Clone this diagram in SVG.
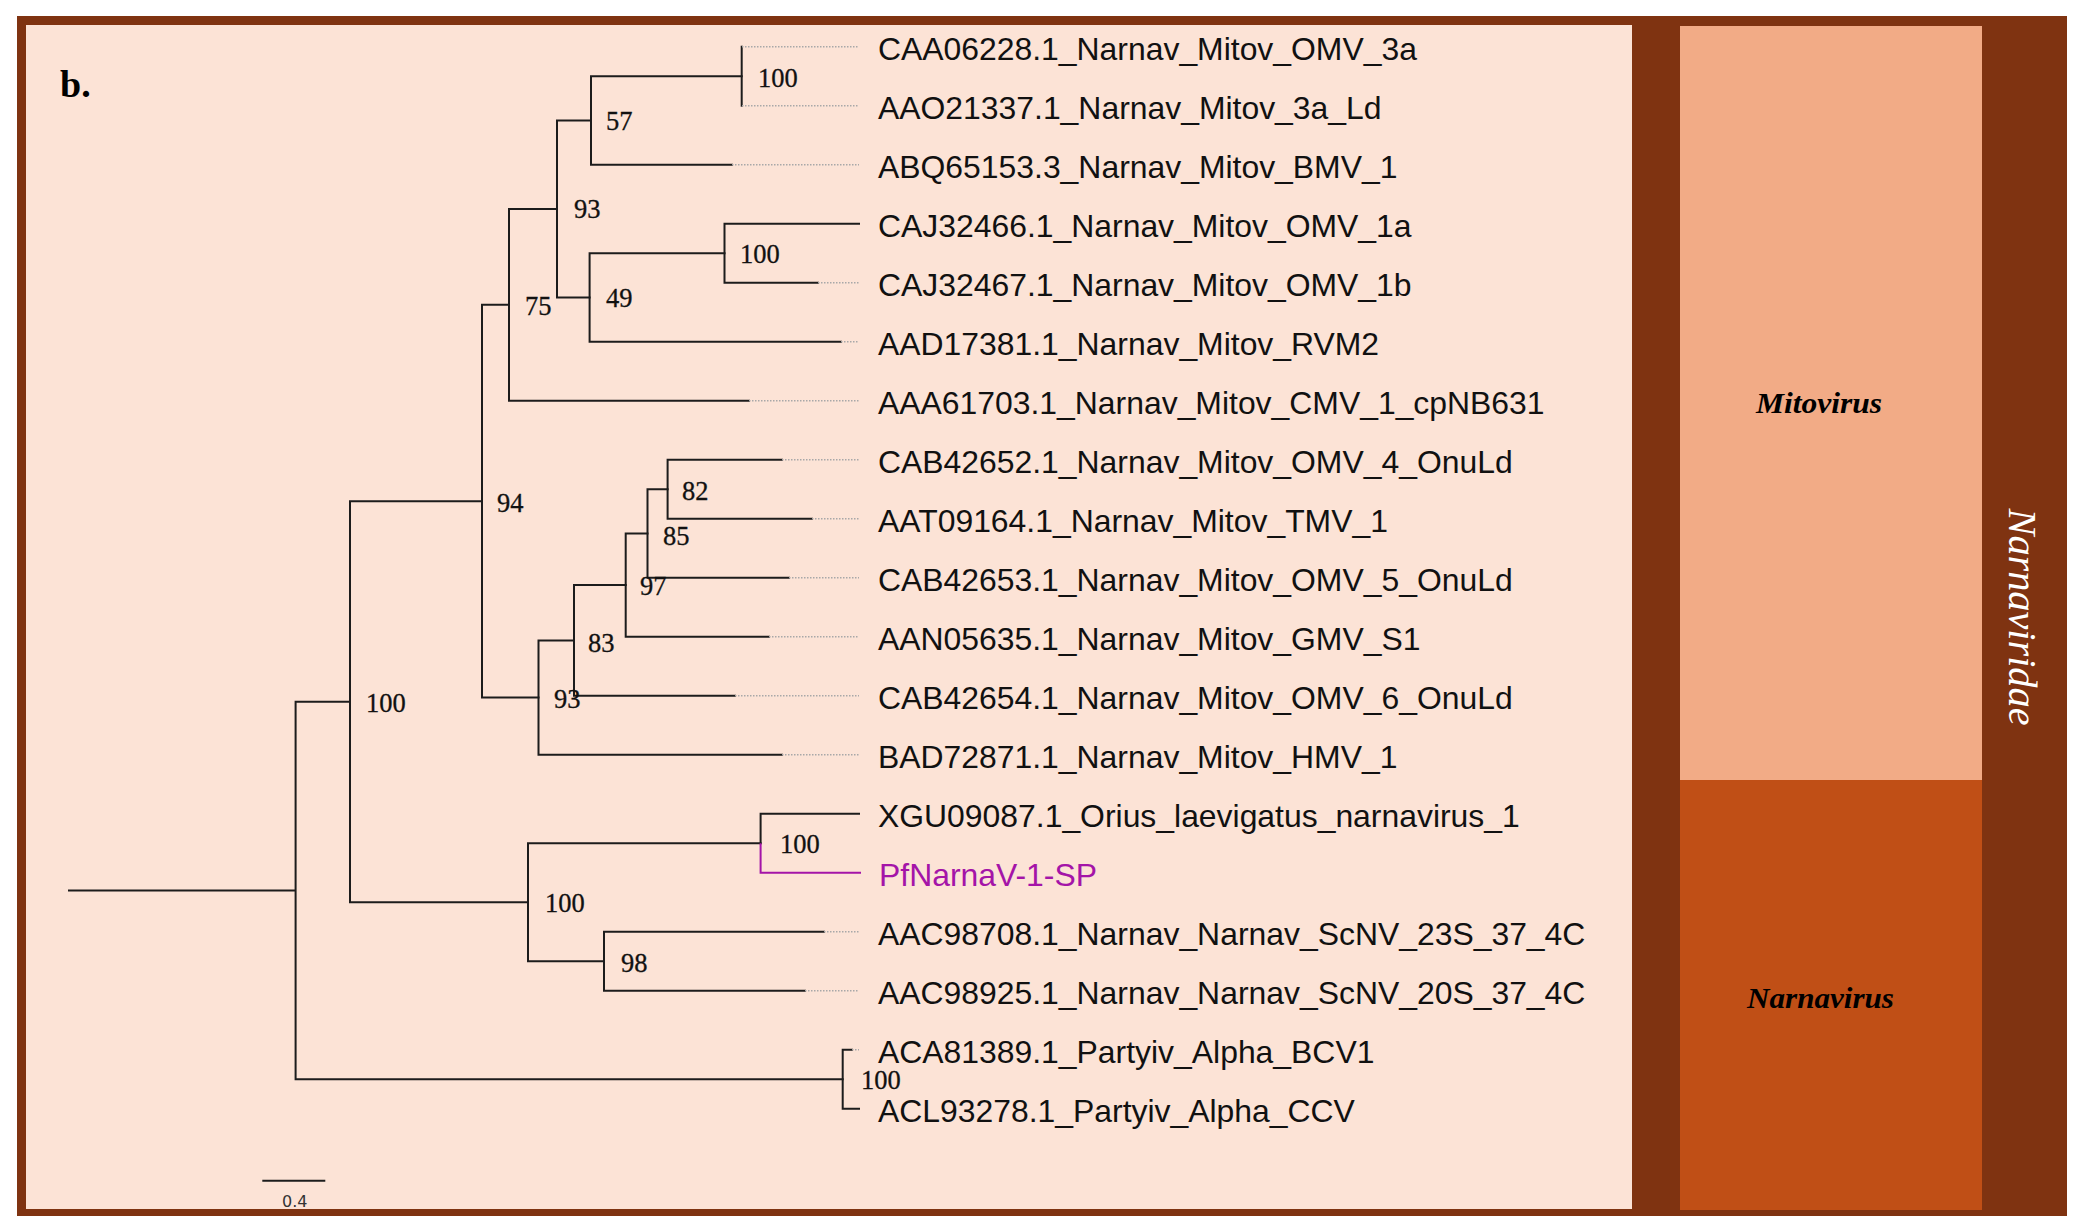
<svg xmlns="http://www.w3.org/2000/svg" width="2082" height="1231" viewBox="0 0 2082 1231">
<style>
.br{fill:none;stroke:#1c1c1c;stroke-width:2;stroke-linecap:square}
.dt{fill:none;stroke:#a8a8a8;stroke-width:1.5;stroke-dasharray:1.5 1.5}
.mg{fill:none;stroke:#a414a8;stroke-width:2}
.lb{font-family:"Liberation Sans",Arial,sans-serif;font-size:31.9px;fill:#111}
.bs{font-family:"Liberation Serif","Times New Roman",serif;font-size:26.5px;fill:#111;stroke:#111;stroke-width:0.3}
.gn{font-family:"Liberation Serif","Times New Roman",serif;font-size:29px;font-weight:bold;font-style:italic;fill:#000}
</style>
<rect x="0" y="0" width="2082" height="1231" fill="#ffffff"/>
<rect x="17" y="16" width="2050" height="1200" fill="#7f3311"/>
<rect x="26" y="25" width="1606" height="1184" fill="#fce3d6"/>
<g id="mitovirus">
<rect x="1680" y="26" width="302" height="754" fill="#f2ab86"/>
<text class="gn" x="1756" y="413" textLength="126" lengthAdjust="spacingAndGlyphs">Mitovirus</text>
</g>
<g id="narnavirus">
<rect x="1680" y="780" width="302" height="430" fill="#c04f16"/>
<text class="gn" x="1747" y="1008" textLength="147" lengthAdjust="spacingAndGlyphs">Narnavirus</text>
</g>
<g id="narnaviridae">
<text transform="translate(2009,617) rotate(90)" x="0" y="0" text-anchor="middle" font-family="'Liberation Serif','Times New Roman',serif" font-style="italic" font-size="40" fill="#ffffff" textLength="217" lengthAdjust="spacingAndGlyphs">Narnaviridae</text>
</g>
<text id="panel-label" x="60" y="97" font-family="'Liberation Serif','Times New Roman',serif" font-weight="bold" font-size="38" fill="#000">b.</text>
<g id="connectors">
<path class="br" d="M69 890.45H295.6M295.6 701.7V1079.2M295.6 701.7H350M295.6 1079.2H842.7"/>
<path class="br" d="M350 501.2V902.2M350 501.2H482M350 902.2H528"/>
<path class="br" d="M482 304.8V697.55M482 304.8H509M482 697.55H538.5"/>
<path class="br" d="M509 208.95V400.7M509 208.95H557M509 400.7H749"/>
<path class="br" d="M557 120.45V297.45M557 120.45H591M557 297.45H589.6"/>
<path class="br" d="M591 76.2V164.7M591 76.2H741.7M591 164.7H732"/>
<path class="br" d="M741.7 46.7V105.7"/>
<path class="br" d="M589.6 253.2V341.7M589.6 253.2H724.5M589.6 341.7H841"/>
<path class="br" d="M724.5 223.7V282.7M724.5 223.7H859M724.5 282.7H818"/>
<path class="br" d="M538.5 640.4V754.7M538.5 640.4H574M538.5 754.7H782"/>
<path class="br" d="M574 585.1V695.7M574 585.1H625.7M574 695.7H735"/>
<path class="br" d="M625.7 533.45V636.7M625.7 533.45H647.5M625.7 636.7H769"/>
<path class="br" d="M647.5 489.2V577.7M647.5 489.2H667.6M647.5 577.7H789"/>
<path class="br" d="M667.6 459.7V518.7M667.6 459.7H782M667.6 518.7H812"/>
<path class="br" d="M528 843.2V961.2M528 843.2H760.6M528 961.2H604"/>
<path class="br" d="M760.6 813.7V843.2M760.6 813.7H859"/>
<path class="mg" d="M760.6 843.2V872.7H861"/>
<path class="br" d="M604 931.7V990.7M604 931.7H824M604 990.7H805"/>
<path class="br" d="M842.7 1049.7V1108.7M842.7 1049.7H852M842.7 1108.7H859"/>
<path class="dt" d="M742 46.7H859M742 105.7H859M732 164.7H859M818 282.7H859M841 341.7H859M749 400.7H859M782 459.7H859M812 518.7H859M789 577.7H859M769 636.7H859M735 695.7H859M782 754.7H859M824 931.7H859M805 990.7H859M852 1049.7H859"/>
<path class="br" d="M263.3 1180.7H324.3"/>
</g>
<g id="bootstrap">
<text class="bs" x="758" y="87">100</text>
<text class="bs" x="606" y="130">57</text>
<text class="bs" x="574" y="218">93</text>
<text class="bs" x="740" y="263">100</text>
<text class="bs" x="606" y="307">49</text>
<text class="bs" x="525" y="315">75</text>
<text class="bs" x="497" y="512">94</text>
<text class="bs" x="682" y="500">82</text>
<text class="bs" x="663" y="545">85</text>
<text class="bs" x="640" y="595">97</text>
<text class="bs" x="588" y="652">83</text>
<text class="bs" x="554" y="708">93</text>
<text class="bs" x="366" y="712">100</text>
<text class="bs" x="780" y="853">100</text>
<text class="bs" x="545" y="912">100</text>
<text class="bs" x="621" y="972">98</text>
<text class="bs" x="861" y="1089">100</text>
</g>
<g id="leaf-0"><text class="lb" x="878" y="59.7">CAA06228.1_Narnav_Mitov_OMV_3a</text></g>
<g id="leaf-1"><text class="lb" x="878" y="118.7">AAO21337.1_Narnav_Mitov_3a_Ld</text></g>
<g id="leaf-2"><text class="lb" x="878" y="177.7">ABQ65153.3_Narnav_Mitov_BMV_1</text></g>
<g id="leaf-3"><text class="lb" x="878" y="236.7">CAJ32466.1_Narnav_Mitov_OMV_1a</text></g>
<g id="leaf-4"><text class="lb" x="878" y="295.7">CAJ32467.1_Narnav_Mitov_OMV_1b</text></g>
<g id="leaf-5"><text class="lb" x="878" y="354.7">AAD17381.1_Narnav_Mitov_RVM2</text></g>
<g id="leaf-6"><text class="lb" x="878" y="413.7">AAA61703.1_Narnav_Mitov_CMV_1_cpNB631</text></g>
<g id="leaf-7"><text class="lb" x="878" y="472.7">CAB42652.1_Narnav_Mitov_OMV_4_OnuLd</text></g>
<g id="leaf-8"><text class="lb" x="878" y="531.7">AAT09164.1_Narnav_Mitov_TMV_1</text></g>
<g id="leaf-9"><text class="lb" x="878" y="590.7">CAB42653.1_Narnav_Mitov_OMV_5_OnuLd</text></g>
<g id="leaf-10"><text class="lb" x="878" y="649.7">AAN05635.1_Narnav_Mitov_GMV_S1</text></g>
<g id="leaf-11"><text class="lb" x="878" y="708.7">CAB42654.1_Narnav_Mitov_OMV_6_OnuLd</text></g>
<g id="leaf-12"><text class="lb" x="878" y="767.7">BAD72871.1_Narnav_Mitov_HMV_1</text></g>
<g id="leaf-13"><text class="lb" x="878" y="826.7">XGU09087.1_Orius_laevigatus_narnavirus_1</text></g>
<g id="leaf-14"><text class="lb" x="879" y="885.7" style="fill:#a414a8">PfNarnaV-1-SP</text></g>
<g id="leaf-15"><text class="lb" x="878" y="944.7">AAC98708.1_Narnav_Narnav_ScNV_23S_37_4C</text></g>
<g id="leaf-16"><text class="lb" x="878" y="1003.7">AAC98925.1_Narnav_Narnav_ScNV_20S_37_4C</text></g>
<g id="leaf-17"><text class="lb" x="878" y="1062.7">ACA81389.1_Partyiv_Alpha_BCV1</text></g>
<g id="leaf-18"><text class="lb" x="878" y="1121.7">ACL93278.1_Partyiv_Alpha_CCV</text></g>
<text id="scale-label" x="282" y="1207" font-family="'DejaVu Sans',sans-serif" font-size="16" fill="#333">0.4</text>
</svg>
